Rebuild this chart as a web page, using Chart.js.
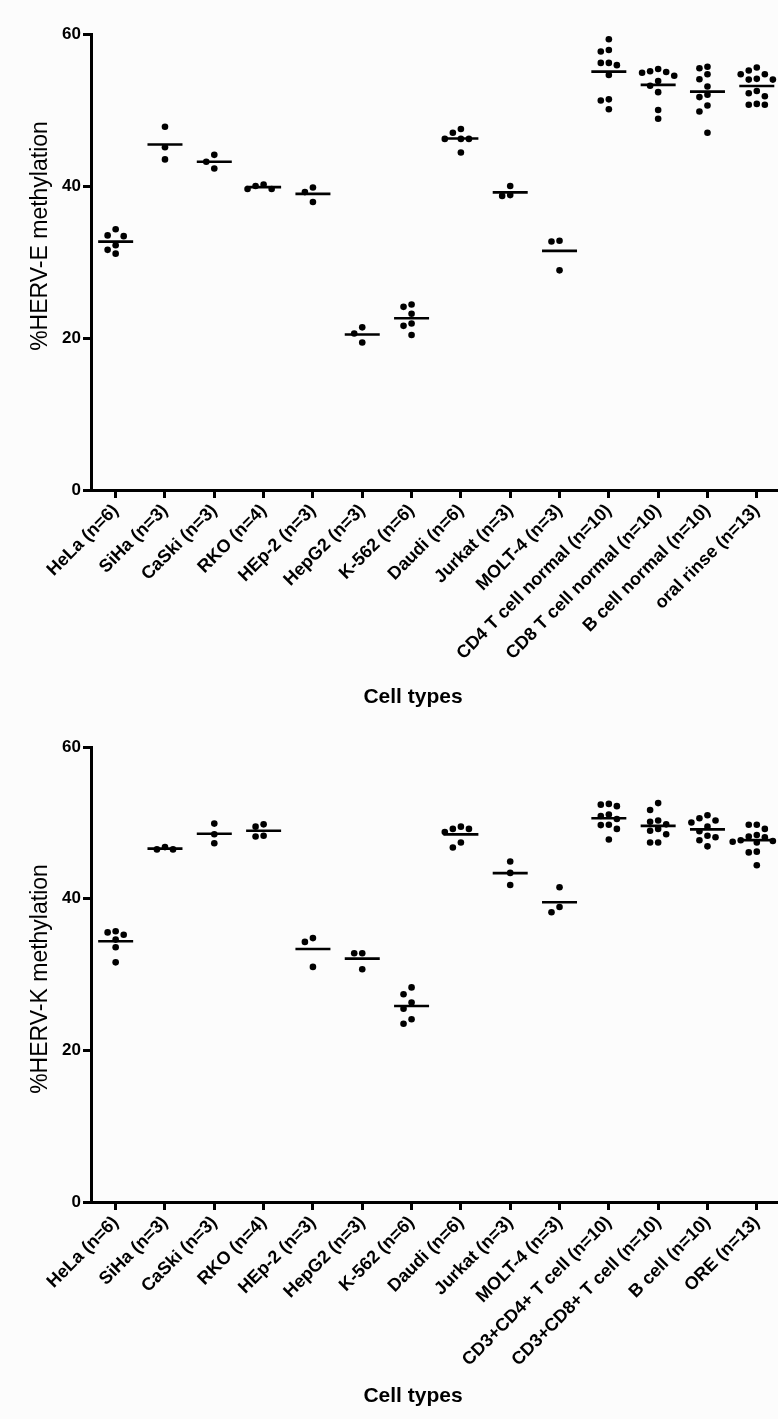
<!DOCTYPE html>
<html>
<head>
<meta charset="utf-8">
<script src="https://cdn.jsdelivr.net/npm/chart.js@4.4.1/dist/chart.umd.min.js"></script>
<style>
  html, body { margin: 0; padding: 0; background: #fcfcfc; }
  #wrap { position: relative; width: 778px; height: 1419px; overflow: hidden; }
  .box { position: absolute; left: 0; width: 778px; }
  #b1 { top: 0; height: 713px; }
  #b2 { top: 713px; height: 706px; }
</style>
</head>
<body>
<div id="wrap">
  <div class="box" id="b1"><canvas id="c1"></canvas></div>
  <div class="box" id="b2"><canvas id="c2"></canvas></div>
</div>
<script>
// ---------------- DATA ----------------
const categoriesE = ['HeLa (n=6)', 'SiHa (n=3)', 'CaSki (n=3)', 'RKO (n=4)', 'HEp-2 (n=3)', 'HepG2 (n=3)',
  'K-562 (n=6)', 'Daudi (n=6)', 'Jurkat (n=3)', 'MOLT-4 (n=3)', 'CD4 T cell normal (n=10)',
  'CD8 T cell normal (n=10)', 'B cell normal (n=10)', 'oral rinse (n=13)'];
const categoriesK = ['HeLa (n=6)', 'SiHa (n=3)', 'CaSki (n=3)', 'RKO (n=4)', 'HEp-2 (n=3)', 'HepG2 (n=3)',
  'K-562 (n=6)', 'Daudi (n=6)', 'Jurkat (n=3)', 'MOLT-4 (n=3)', 'CD3+CD4+ T cell (n=10)',
  'CD3+CD8+ T cell (n=10)', 'B cell (n=10)', 'ORE (n=13)'];

// % HERV-E methylation, one list per cell type
const hervE = [
  [34.3, 33.5, 33.4, 32.2, 31.6, 31.1],
  [47.8, 45.1, 43.5],
  [44.1, 43.2, 42.3],
  [40.2, 40.0, 39.6, 39.6],
  [39.8, 39.2, 37.9],
  [21.4, 20.6, 19.4],
  [24.4, 24.1, 23.2, 21.9, 21.6, 20.4],
  [47.5, 47.0, 46.2, 46.2, 46.2, 44.4],
  [40.0, 38.8, 38.7],
  [32.8, 32.7, 28.9],
  [59.3, 57.9, 57.7, 56.2, 56.2, 55.9, 54.6, 51.4, 51.25, 50.1],
  [55.4, 55.1, 55.0, 54.9, 54.5, 53.8, 53.2, 52.35, 50.0, 48.85],
  [55.7, 55.5, 54.7, 54.05, 53.1, 52.0, 51.7, 50.6, 49.8, 47.0],
  [55.6, 55.2, 54.7, 54.7, 54.1, 54.0, 54.0, 52.5, 52.2, 51.8, 50.8, 50.7, 50.7]
];

// % HERV-K methylation, one list per cell type
const hervK = [
  [35.7, 35.55, 35.25, 34.6, 33.6, 31.6],
  [46.8, 46.5, 46.5],
  [49.9, 48.5, 47.3],
  [49.8, 49.5, 48.3, 48.2],
  [34.8, 34.3, 31.0],
  [32.8, 32.8, 30.7],
  [28.3, 27.4, 26.3, 25.5, 24.1, 23.5],
  [49.5, 49.2, 49.2, 48.8, 47.4, 46.75],
  [44.9, 43.4, 41.8],
  [41.5, 38.9, 38.2],
  [52.5, 52.4, 52.2, 51.1, 50.9, 50.5, 49.75, 49.7, 49.2, 47.8],
  [52.6, 51.7, 50.3, 50.15, 49.8, 49.2, 48.95, 48.5, 47.4, 47.4],
  [51.0, 50.6, 50.3, 50.05, 49.5, 48.9, 48.3, 48.1, 47.7, 46.9],
  [49.75, 49.75, 49.2, 48.4, 48.2, 48.1, 47.7, 47.6, 47.5, 47.4, 46.2, 46.1, 44.4]
];

const yTickValues = [0, 20, 40, 60];
const xTitleText = 'Cell types';
const yTitleE = '%HERV-E methylation';
const yTitleK = '%HERV-K methylation';

// ---------------- HELPERS ----------------
const FONT = '"Liberation Sans", Arial, Helvetica, sans-serif';
Chart.defaults.font.family = FONT;
Chart.defaults.color = '#000';

// Beeswarm-style column assignment (like a Prism scatter dot plot): points that
// would overlap vertically are moved into neighbouring columns.
function swarmColumns(vals, minGap) {
  const order = vals.map((v, i) => i).sort((a, b) => vals[b] - vals[a]);
  const cols = {};
  const out = new Array(vals.length).fill(0);
  for (const i of order) {
    for (const k of [0, -1, 1, -2, 2, -3, 3]) {
      const c = cols[k] || (cols[k] = []);
      if (c.every(v => Math.abs(v - vals[i]) >= minGap)) { c.push(vals[i]); out[i] = k; break; }
    }
  }
  return out;
}
const mean = a => a.reduce((s, v) => s + v, 0) / a.length;

const axisTitles = {
  id: 'axisTitles',
  afterDraw(chart, args, o) {
    const ctx = chart.ctx;
    ctx.save();
    ctx.fillStyle = '#000';
    ctx.textAlign = 'center';
    ctx.textBaseline = 'middle';
    ctx.font = 'bold 21px ' + FONT;
    ctx.fillText(o.xText, o.xX, o.xY);
    ctx.translate(o.yX, o.yY);
    ctx.rotate(-Math.PI / 2);
    ctx.font = '23px ' + FONT;
    ctx.fillText(o.yText, 0, 0);
    ctx.restore();
  }
};

function makeChart(canvasId, cats, values, yTitle, xScaleHeight, titlePos) {
  const colStep = 0.163;
  const dots = [];
  values.forEach((vals, i) => {
    const cols = swarmColumns(vals, 1.0);
    vals.forEach((v, j) => dots.push({ x: i + cols[j] * colStep, y: v }));
  });
  const means = values.map((vals, i) => ({ x: i, y: mean(vals) }));

  return new Chart(document.getElementById(canvasId), {
    type: 'scatter',
    data: {
      datasets: [
        { label: 'values', data: dots, pointRadius: 3.3, pointHoverRadius: 3.3,
          backgroundColor: '#000', borderColor: '#000', pointBorderWidth: 0, clip: false },
        { label: 'mean', data: means, pointStyle: 'line', pointRadius: 17.5, pointHoverRadius: 17.5,
          borderColor: '#000', backgroundColor: '#000', pointBorderWidth: 2.6, clip: false }
      ]
    },
    options: {
      responsive: true,
      maintainAspectRatio: false,
      animation: false,
      devicePixelRatio: 1,
      layout: { autoPadding: false, padding: { top: 34, left: 0, right: 0, bottom: 0 } },
      plugins: {
        legend: { display: false },
        tooltip: { enabled: false },
        axisTitles: Object.assign({ xText: xTitleText, yText: yTitle }, titlePos)
      },
      scales: {
        x: {
          type: 'linear', min: -0.5, max: 13.43,
          afterBuildTicks: s => { s.ticks = cats.map((c, i) => ({ value: i })); },
          afterFit: s => { s.height = xScaleHeight; s.paddingLeft = 0; s.paddingRight = 0; },
          ticks: {
            autoSkip: false, minRotation: 45, maxRotation: 45, padding: 2, color: '#000',
            font: { size: 18, weight: 'bold' },
            callback: v => cats[v]
          },
          grid: { drawOnChartArea: false, drawTicks: true, tickLength: 8, lineWidth: 3, color: '#000' },
          border: { display: true, color: '#000', width: 3 }
        },
        y: {
          min: 0, max: 60,
          afterBuildTicks: s => { s.ticks = yTickValues.map(v => ({ value: v })); },
          afterFit: s => { s.width = 91; s.paddingTop = 0; s.paddingBottom = 0; },
          ticks: { padding: 2, color: '#000', font: { size: 17, weight: 'bold' } },
          grid: { drawOnChartArea: false, drawTicks: true, tickLength: 8, lineWidth: 3, color: '#000' },
          border: { display: true, color: '#000', width: 3 }
        }
      }
    },
    plugins: [axisTitles]
  });
}

makeChart('c1', categoriesE, hervE, yTitleE, 223, { xX: 413, xY: 697, yX: 41, yY: 236 });
makeChart('c2', categoriesK, hervK, yTitleK, 217, { xX: 413, xY: 683, yX: 41, yY: 266 });
</script>
</body>
</html>
